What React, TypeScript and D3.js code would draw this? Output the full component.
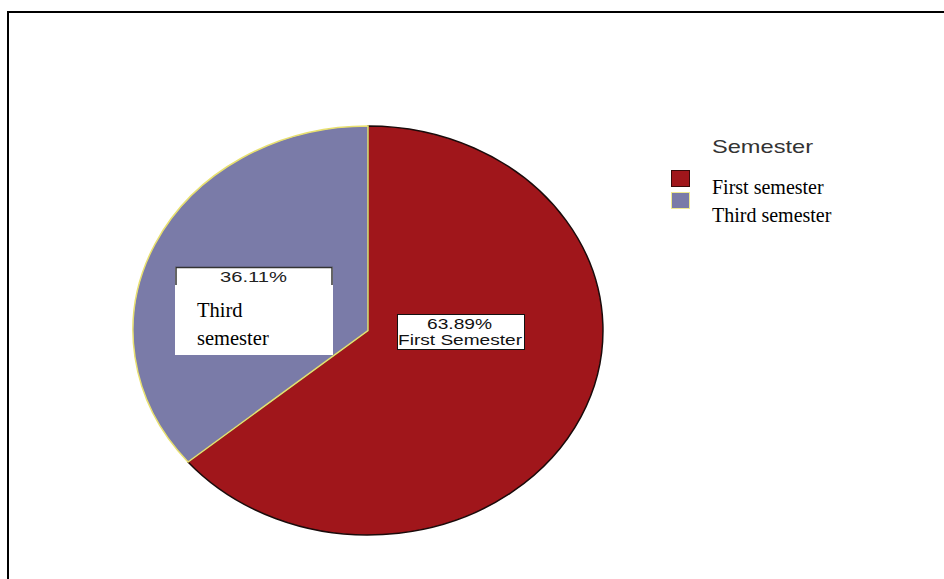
import React from "react";
import * as d3 from "d3";

const categories = ["First semester", "Third semester"];
const percents = [63.89, 36.11];
const sliceLabels = ["First Semester", "Third\nsemester"];
const legendTitle = "Semester";

const fills = ["#A0161B", "#7A7BA8"];
const strokes = ["#1a0a0a", "#E8E070"];

export default function App() {
  const W = 944, H = 579;
  const cx = 368, cy = 330.5, rx = 235, ry = 204.5;
  const pie = d3.pie<number>().sort(null).value((d) => d);
  const arcs = pie(percents);
  const arc = d3.arc<d3.PieArcDatum<number>>().innerRadius(0).outerRadius(1);
  const fmt = (v: number) => v.toFixed(2) + "%";
  const sans = "'Liberation Sans', Arial, sans-serif";
  const serif = "'Liberation Serif', 'Times New Roman', serif";
  return (
    <svg width={W} height={H} style={{ position: "absolute", left: 0, top: 0 }}>
      <rect width={W} height={H} fill="#fff" />
      <line x1={8} y1={12} x2={8} y2={H} stroke="#000" strokeWidth={2} />
      <line x1={7} y1={12} x2={W} y2={12} stroke="#000" strokeWidth={2} />
      <g transform={`translate(${cx},${cy}) scale(${rx},${ry})`}>
        {arcs.map((a, i) => (
          <path
            key={i}
            d={arc(a) || ""}
            fill={fills[i]}
            stroke={strokes[i]}
            strokeWidth={1.5}
            vectorEffect="non-scaling-stroke"
          />
        ))}
      </g>
      {/* Third semester label box */}
      <g>
        <rect x={175} y={267} width={158} height={88} fill="#fff" />
        <path d="M176,285 V267.5 H332 V285" fill="none" stroke="#333" strokeWidth={1.5} />
        <text x={220} y={282} fontFamily={sans} fontSize={14} fill="#222"
          textLength={67} lengthAdjust="spacingAndGlyphs">
          {fmt(percents[1])}
        </text>
        {sliceLabels[1].split("\n").map((t, j) => (
          <text key={j} x={197} y={317 + j * 28} fontFamily={serif} fontSize={20.5} fill="#000">
            {t}
          </text>
        ))}
      </g>
      {/* First semester label box */}
      <g>
        <rect x={397.5} y={314.5} width={127} height={35} fill="#fff" stroke="#111" strokeWidth={1} />
        <text x={427} y={329} fontFamily={sans} fontSize={14} fill="#111"
          textLength={65} lengthAdjust="spacingAndGlyphs">
          {fmt(percents[0])}
        </text>
        <text x={398} y={345} fontFamily={sans} fontSize={14} fill="#111"
          textLength={124} lengthAdjust="spacingAndGlyphs">
          {sliceLabels[0]}
        </text>
      </g>
      {/* Legend */}
      <text x={712} y={153} fontFamily={sans} fontSize={18.5} fill="#333"
        textLength={101} lengthAdjust="spacingAndGlyphs">
        {legendTitle}
      </text>
      {categories.map((c, i) => (
        <g key={c}>
          <rect
            x={671.5}
            y={170.5 + i * 22}
            width={18}
            height={16}
            fill={fills[i]}
            stroke={i === 0 ? "#3a0a0a" : "#EFEA90"}
            strokeWidth={1}
          />
          <text x={712} y={194 + i * 28} fontFamily={serif} fontSize={20} fill="#000">
            {c}
          </text>
        </g>
      ))}
    </svg>
  );
}
